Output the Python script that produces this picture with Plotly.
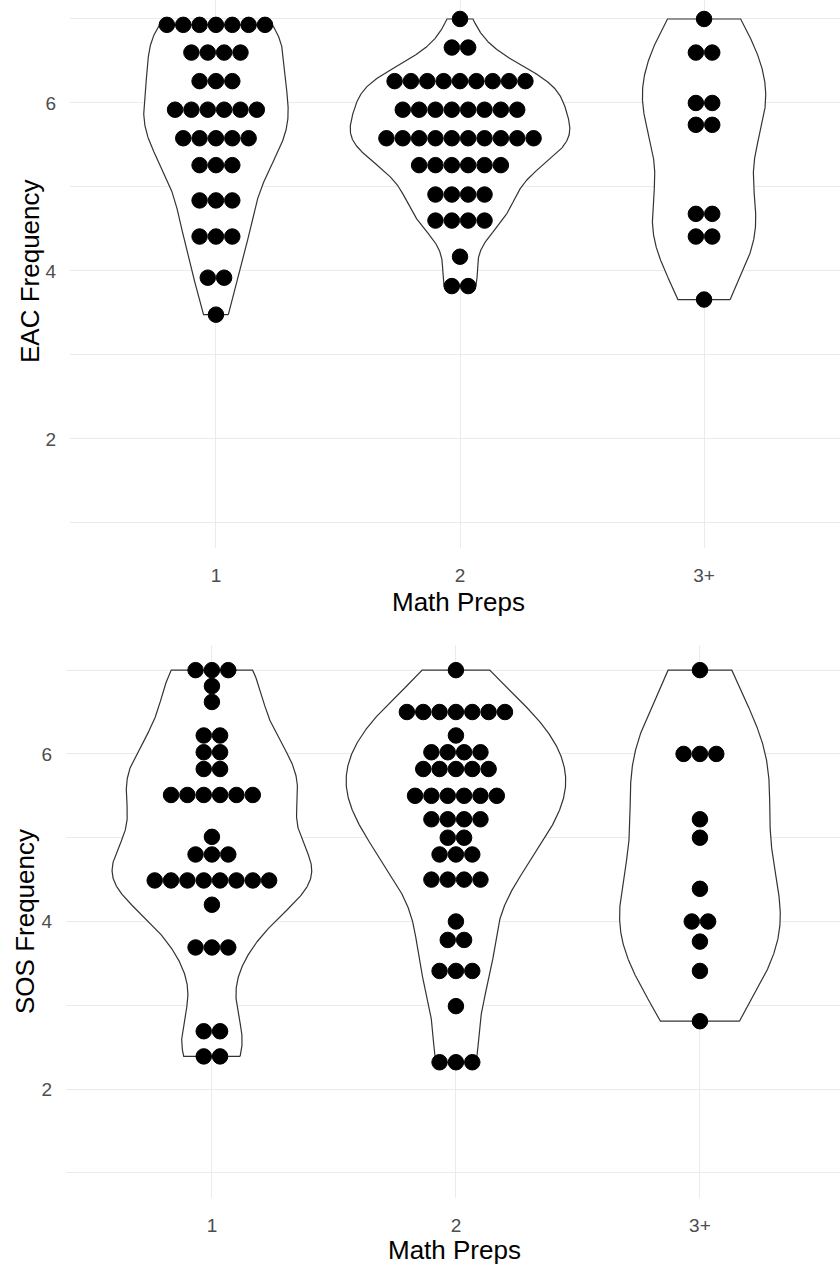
import numpy as np
import plotly.graph_objects as go

# ---------------- data (dot-bin centres and number of dots per bin) ----------------
categories = ["1", "2", "3+"]
cat_pos = [1, 2, 3]

eac_1_vals = [6.93, 6.60, 6.26, 5.92, 5.58, 5.26, 4.84, 4.41, 3.92, 3.48]
eac_1_counts = [7, 4, 3, 6, 5, 3, 3, 3, 2, 1]
eac_2_vals = [7.0, 6.66, 6.26, 5.92, 5.58, 5.26, 4.91, 4.60, 4.17, 3.82]
eac_2_counts = [1, 2, 9, 8, 10, 6, 4, 4, 1, 2]
eac_3_vals = [7.0, 6.60, 6.0, 5.74, 4.68, 4.41, 3.66]
eac_3_counts = [1, 2, 2, 2, 2, 2, 1]

sos_1_vals = [7.0, 6.81, 6.62, 6.22, 6.02, 5.82, 5.51, 5.01, 4.80, 4.49, 4.20, 3.69, 2.69, 2.39]
sos_1_counts = [3, 1, 1, 2, 2, 2, 6, 1, 3, 8, 1, 3, 2, 2]
sos_2_vals = [7.0, 6.50, 6.22, 6.02, 5.82, 5.50, 5.22, 5.0, 4.80, 4.50, 4.0, 3.78, 3.41, 2.99, 2.32]
sos_2_counts = [1, 7, 1, 4, 5, 6, 4, 2, 3, 4, 1, 2, 3, 1, 3]
sos_3_vals = [7.0, 6.0, 5.22, 5.0, 4.39, 4.0, 3.76, 3.41, 2.81]
sos_3_counts = [1, 3, 1, 1, 1, 2, 1, 1, 1]

y_ticks = [2, 4, 6]
y_minor = [1, 3, 5, 7]

# ---------------- styling ----------------
W, H = 840, 1268
FONT = "Liberation Sans, Arial, sans-serif"
GRID = "#EBEBEB"
DOT_STEP = 0.067      # horizontal spacing of stacked dots (x units)
VIOLIN_WIDTH = 0.9
DOT_SIZE = 15.5


def kde(values, counts, n_grid=512):
    data = np.repeat(np.asarray(values, float), counts)
    n = len(data)
    sd = data.std(ddof=1)
    q75, q25 = np.percentile(data, [75, 25])
    lo = min(sd, (q75 - q25) / 1.34)
    bw = 0.9 * lo * n ** (-0.2)
    grid = np.linspace(data.min(), data.max(), n_grid)
    dens = np.exp(-0.5 * ((grid[:, None] - data[None, :]) / bw) ** 2).sum(1) / (n * bw * np.sqrt(2 * np.pi))
    return grid, dens


fig = go.Figure()

panels = [
    ("x", "y", [(eac_1_vals, eac_1_counts), (eac_2_vals, eac_2_counts), (eac_3_vals, eac_3_counts)]),
    ("x2", "y2", [(sos_1_vals, sos_1_counts), (sos_2_vals, sos_2_counts), (sos_3_vals, sos_3_counts)]),
]

for xa, ya, groups in panels:
    kdes = [kde(v, c) for v, c in groups]
    maxd = max(d.max() for _, d in kdes)
    # violins
    for pos, (grid, dens) in zip(cat_pos, kdes):
        hw = VIOLIN_WIDTH / 2 * dens / maxd
        xs = np.concatenate([pos + hw, (pos - hw)[::-1], [pos + hw[0]]])
        ys = np.concatenate([grid, grid[::-1], [grid[0]]])
        fig.add_trace(go.Scatter(x=xs, y=ys, xaxis=xa, yaxis=ya, mode="lines",
                                 fill="toself", fillcolor="white",
                                 line=dict(color="#333333", width=1.2),
                                 hoverinfo="skip", showlegend=False))
    # dots
    for pos, (vals, counts) in zip(cat_pos, groups):
        dx, dy = [], []
        for v, c in zip(vals, counts):
            for j in range(c):
                dx.append(pos + (j - (c - 1) / 2) * DOT_STEP)
                dy.append(v)
        fig.add_trace(go.Scatter(x=dx, y=dy, xaxis=xa, yaxis=ya, mode="markers",
                                 marker=dict(color="black", size=DOT_SIZE,
                                             line=dict(color="black", width=1)),
                                 showlegend=False))

axis_common = dict(showline=False, zeroline=False, ticks="", showgrid=True,
                   gridcolor=GRID, gridwidth=1.3, automargin=False,
                   tickfont=dict(family=FONT, size=19, color="#4D4D4D"))

fig.update_layout(
    width=W, height=H,
    margin=dict(l=0, r=0, t=0, b=0),
    plot_bgcolor="white", paper_bgcolor="white",
    showlegend=False,
    xaxis=dict(domain=[70 / W, 1], range=[0.402, 3.557], tickvals=cat_pos, ticktext=categories,
               anchor="y", ticklabelstandoff=14, **axis_common),
    yaxis=dict(domain=[1 - 548 / H, 1], range=[0.702, 7.226], tickvals=y_ticks,
               anchor="x", ticklabelstandoff=13,
               minor=dict(tickvals=y_minor, showgrid=True, gridcolor=GRID, gridwidth=1.0, ticks=""),
               **axis_common),
    xaxis2=dict(domain=[66 / W, 1], range=[0.402, 3.574], tickvals=cat_pos, ticktext=categories,
                anchor="y2", ticklabelstandoff=14, **axis_common),
    yaxis2=dict(domain=[1 - 1198 / H, 1 - 645 / H], range=[0.7, 7.3], tickvals=y_ticks,
                anchor="x2", ticklabelstandoff=13,
                minor=dict(tickvals=y_minor, showgrid=True, gridcolor=GRID, gridwidth=1.0, ticks=""),
                **axis_common),
)

title_font = dict(family=FONT, size=26, color="black")
for text, px, py, ang in [("EAC Frequency", 30, 271, -90),
                          ("SOS Frequency", 25, 922, -90),
                          ("Math Preps", 459, 602, 0),
                          ("Math Preps", 454, 1250, 0)]:
    fig.add_annotation(text=text, xref="paper", yref="paper", x=px / W, y=1 - py / H,
                       xanchor="center", yanchor="middle", textangle=ang,
                       showarrow=False, font=title_font)

fig.write_html("out.html", config={"displayModeBar": False},
               post_script="document.body.style.margin='0';document.body.style.overflow='hidden';")
